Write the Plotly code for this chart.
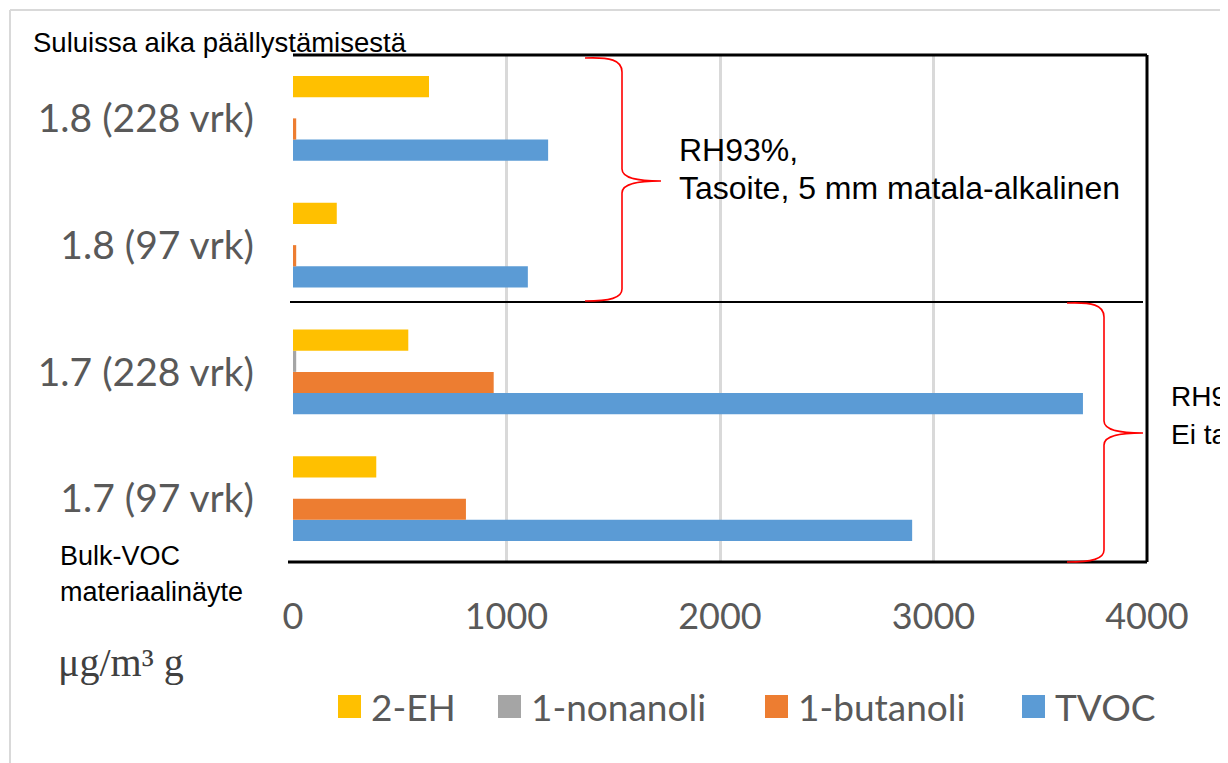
import plotly.graph_objects as go

# ---- data ----
categories = ["1.7 (97 vrk)", "1.7 (228 vrk)", "1.8 (97 vrk)", "1.8 (228 vrk)"]
tvoc = [2900, 3700, 1100, 1195]
butanoli = [810, 940, 15, 15]
nonanoli = [0, 15, 0, 0]
eh2 = [390, 540, 205, 637]
x_ticks = [0, 1000, 2000, 3000, 4000]

series_names = ["TVOC", "1-butanoli", "1-nonanoli", "2-EH"]
series_values = [tvoc, butanoli, nonanoli, eh2]
series_colors = ["#5B9BD5", "#ED7D31", "#A5A5A5", "#FFC000"]

# ---- layout geometry (screen pixels; page body has an 8px margin) ----
OFF = 8
W, H = 1228 - OFF, 763 - OFF
L, R, T, B = 293, 1147, 55, 562


def px(x):
    return (x - L) / (R - L)


def py(y):
    return (B - y) / (B - T)


fig = go.Figure()
for name, vals, col in zip(series_names, series_values, series_colors):
    fig.add_trace(go.Bar(y=categories, x=vals, name=name, orientation="h",
                         marker=dict(color=col, line=dict(width=0)),
                         showlegend=False))

shapes = []
annotations = []

# outer light frame
shapes.append(dict(type="line", xref="paper", yref="paper", x0=px(10), x1=px(1240),
                   y0=py(10), y1=py(10), line=dict(color="#d9d9d9", width=2)))
shapes.append(dict(type="line", xref="paper", yref="paper", x0=px(10), x1=px(10),
                   y0=py(10), y1=py(775), line=dict(color="#d9d9d9", width=2)))

# plot frame (top, right, bottom black)
blk = dict(color="black", width=3)
shapes.append(dict(type="line", xref="paper", yref="paper", x0=0, x1=1, y0=1, y1=1, line=blk))
shapes.append(dict(type="line", xref="paper", yref="paper", x0=1, x1=1, y0=0, y1=1, line=blk))
shapes.append(dict(type="line", xref="paper", yref="paper", x0=px(288), x1=1, y0=0, y1=0, line=blk))
# separator line
shapes.append(dict(type="line", xref="paper", yref="paper", x0=px(290), x1=px(1143),
                   y0=py(302), y1=py(302), line=dict(color="black", width=2)))


def brace(x_end, x_mid, x_tip, y_top, y_tip, y_bot):
    pts = [
        f"M {px(x_end)},{py(y_top)}",
        f"C {px(x_end + 25)},{py(y_top - 1)} {px(x_mid)},{py(y_top + 2)} {px(x_mid)},{py(y_top + 14)}",
        f"L {px(x_mid)},{py(y_tip - 12)}",
        f"C {px(x_mid)},{py(y_tip - 2)} {px(x_mid + 18)},{py(y_tip)} {px(x_tip)},{py(y_tip)}",
        f"C {px(x_mid + 18)},{py(y_tip)} {px(x_mid)},{py(y_tip + 2)} {px(x_mid)},{py(y_tip + 12)}",
        f"L {px(x_mid)},{py(y_bot - 12)}",
        f"C {px(x_mid)},{py(y_bot - 3)} {px(x_end + 25)},{py(y_bot)} {px(x_end)},{py(y_bot)}",
    ]
    return " ".join(pts)


shapes.append(dict(type="path", xref="paper", yref="paper",
                   path=brace(585, 622, 661, 58, 181, 301),
                   line=dict(color="#FF0000", width=1.6)))
shapes.append(dict(type="path", xref="paper", yref="paper",
                   path=brace(1067, 1104, 1143, 303, 433, 562),
                   line=dict(color="#FF0000", width=1.6)))


def text(s, x, y, size, color="black", family="Liberation Sans, Arial, sans-serif",
         xanchor="left"):
    annotations.append(dict(text=s, xref="paper", yref="paper", x=px(x), y=py(y),
                            xanchor=xanchor, yanchor="middle", showarrow=False,
                            font=dict(size=size, color=color, family=family)))


text("Suluissa aika päällystämisestä", 31, 42, 27.5)
text("RH93%,", 677, 150, 32)
text("Tasoite, 5 mm matala-alkalinen", 677, 188, 32)
text("RH93%,", 1169, 396, 28)
text("Ei tasoitetta", 1169, 434, 28)
text("Bulk-VOC", 58, 556, 27)
text("materiaalinäyte", 58, 592, 27)
text("μg/m³ g", 56, 662, 40, color="#404040",
     family="Liberation Serif, DejaVu Serif, serif")

# manual legend
legend_names = ["2-EH", "1-nonanoli", "1-butanoli", "TVOC"]
legend_colors = ["#FFC000", "#A5A5A5", "#ED7D31", "#5B9BD5"]
legend_x = [338, 498, 765, 1022]
for nm, col, lx in zip(legend_names, legend_colors, legend_x):
    shapes.append(dict(type="rect", xref="paper", yref="paper",
                       x0=px(lx), x1=px(lx + 23), y0=py(695), y1=py(718),
                       fillcolor=col, line=dict(width=0)))
    text(nm, lx + 31, 706, 37, color="#595959", family="Lato, sans-serif")

fig.update_layout(
    width=W, height=H,
    margin=dict(l=L - OFF, r=W - (R - OFF), t=T - OFF, b=H - (B - OFF), pad=0),
    paper_bgcolor="white", plot_bgcolor="white",
    barmode="group", bargap=0.33, bargroupgap=0,
    shapes=shapes, annotations=annotations,
    showlegend=False,
    xaxis=dict(range=[0, 4000], tickvals=x_ticks, ticktext=[str(v) for v in x_ticks],
               showgrid=True, gridcolor="#d9d9d9", gridwidth=2.5, zeroline=False,
               showline=False, ticks="", ticklabelstandoff=30,
               tickfont=dict(family="Lato, sans-serif", size=36, color="#595959")),
    yaxis=dict(categoryorder="array", categoryarray=categories, range=[-0.5, 3.5],
               showgrid=False, zeroline=False, showline=False, ticks="",
               ticklabelstandoff=38,
               tickfont=dict(family="Lato, sans-serif", size=39, color="#595959")),
)

fig.write_html("out.html")
